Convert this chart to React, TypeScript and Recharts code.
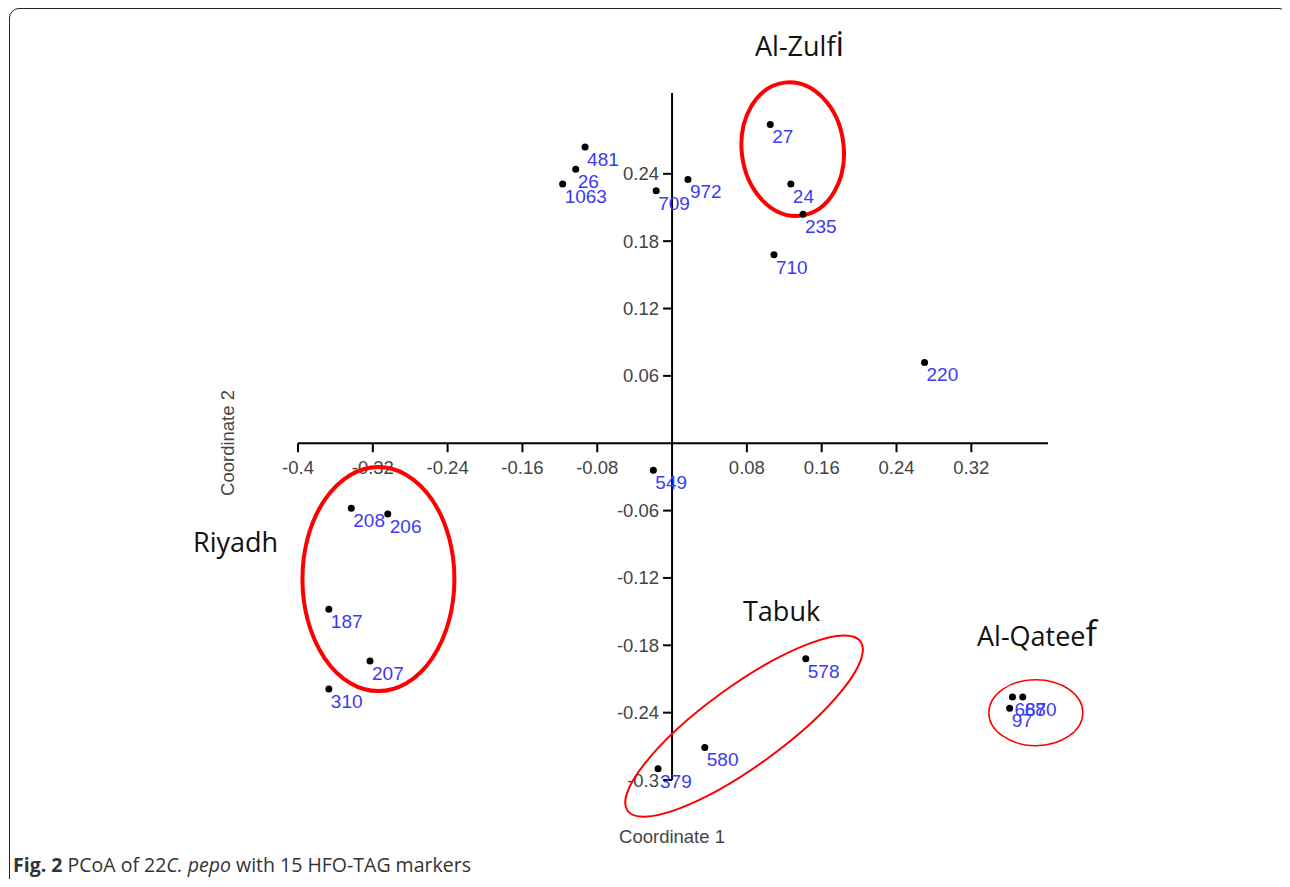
import React from "react";
import {
  ScatterChart,
  Scatter,
  XAxis,
  YAxis,
  ReferenceLine,
  ReferenceDot,
} from "recharts";

// accession labels and PCoA coordinates
const names = [
  "481", "26", "1063", "709", "972", "27", "24", "235", "710", "220", "549",
  "208", "206", "187", "207", "310", "578", "580", "379", "687", "680", "97",
];
const coord1 = [
  -0.093, -0.103, -0.117, -0.017, 0.017, 0.105, 0.127, 0.14, 0.109, 0.27, -0.02,
  -0.343, -0.304, -0.367, -0.323, -0.367, 0.143, 0.035, -0.015, 0.364, 0.375, 0.361,
];
const coord2 = [
  0.264, 0.244, 0.231, 0.225, 0.235, 0.284, 0.231, 0.204, 0.168, 0.072, -0.024,
  -0.058, -0.063, -0.148, -0.194, -0.219, -0.192, -0.271, -0.29, -0.226, -0.226, -0.236,
];

const xTicks = [-0.4, -0.32, -0.24, -0.16, -0.08, 0.08, 0.16, 0.24, 0.32];
const yTicks = [0.24, 0.18, 0.12, 0.06, -0.06, -0.12, -0.18, -0.24, -0.3];

// cluster ellipses (centre in data units)
const groupX = [0.129, -0.314, 0.077, 0.389];
const groupY = [0.262, -0.121, -0.252, -0.24];

const points = names.map((n, i) => ({ x: coord1[i], y: coord2[i], name: n }));

const ellipseStyle = [
  { rx: 51, ry: 67, rot: -7, sw: 4 },
  { rx: 76, ry: 112, rot: 0, sw: 4 },
  { rx: 144, ry: 40, rot: -36, sw: 2 },
  { rx: 47, ry: 33, rot: 0, sw: 1.5 },
];

const tickFont = { fontFamily: "Liberation Sans, Arial, sans-serif", fontSize: 18.5, fill: "#444" };

function PointShape(props: any) {
  const { cx, cy, payload } = props;
  return (
    <g>
      <circle cx={cx} cy={cy} r={3.5} fill="#000" />
      <text
        x={cx + 2}
        y={cy + 19}
        fontFamily="Liberation Sans, Arial, sans-serif"
        fontSize={19}
        fill="#3b3bf2"
      >
        {payload.name}
      </text>
    </g>
  );
}

const groupLabel: React.CSSProperties = {
  position: "absolute",
  fontFamily: "'Open Sans', sans-serif",
  fontSize: 27,
  lineHeight: "36px",
  color: "#111",
  whiteSpace: "nowrap",
};

const bigChar: React.CSSProperties = { fontSize: 34 };

export default function App() {
  return (
    <div
      style={{
        position: "relative",
        width: 1290,
        height: 887,
        margin: -8,
        background: "#fff",
        overflow: "hidden",
      }}
    >
      <div
        style={{
          position: "absolute",
          left: 9,
          top: 8,
          width: 1278,
          height: 900,
          border: "1.5px solid #222",
          borderRadius: 10,
        }}
      />
      <ScatterChart
        width={1290}
        height={887}
        margin={{ top: 93, right: 242, bottom: 107, left: 298 }}
        style={{ position: "absolute", left: 0, top: 0 }}
      >
        <XAxis type="number" dataKey="x" domain={[-0.4, 0.402]} hide />
        <YAxis type="number" dataKey="y" domain={[-0.3, 0.312]} hide />
        <ReferenceLine y={0} stroke="#000" strokeWidth={2} />
        <ReferenceLine x={0} stroke="#000" strokeWidth={2} />
        {xTicks.map((t) => (
          <ReferenceDot
            key={"x" + t}
            x={t}
            y={0}
            ifOverflow="visible"
            shape={(p: any) => (
              <g>
                <line x1={p.cx} y1={p.cy} x2={p.cx} y2={p.cy + 9} stroke="#000" strokeWidth={2} />
                <text x={p.cx} y={p.cy + 31} textAnchor="middle" {...tickFont}>
                  {String(t)}
                </text>
              </g>
            )}
          />
        ))}
        {yTicks.map((t) => (
          <ReferenceDot
            key={"y" + t}
            x={0}
            y={t}
            ifOverflow="visible"
            shape={(p: any) => (
              <g>
                <line x1={p.cx} y1={p.cy} x2={p.cx - 9} y2={p.cy} stroke="#000" strokeWidth={2} />
                <text x={p.cx - 13} y={p.cy + 6.5} textAnchor="end" {...tickFont}>
                  {String(t)}
                </text>
              </g>
            )}
          />
        ))}
        {groupX.map((gx, i) => (
          <ReferenceDot
            key={"g" + i}
            x={gx}
            y={groupY[i]}
            ifOverflow="visible"
            shape={(p: any) => {
              const e = ellipseStyle[i];
              return (
                <ellipse
                  cx={p.cx}
                  cy={p.cy}
                  rx={e.rx}
                  ry={e.ry}
                  fill="none"
                  stroke="#f00"
                  strokeWidth={e.sw}
                  transform={`rotate(${e.rot} ${p.cx} ${p.cy})`}
                />
              );
            }}
          />
        ))}
        <Scatter data={points} shape={PointShape} isAnimationActive={false} />
      </ScatterChart>

      <div style={{ ...groupLabel, left: 755, top: 25 }}>
        Al-Zulf<span style={bigChar}>i</span>
      </div>
      <div style={{ ...groupLabel, left: 193, top: 524 }}>Riyadh</div>
      <div style={{ ...groupLabel, left: 743, top: 593 }}>Tabuk</div>
      <div style={{ ...groupLabel, left: 977, top: 615 }}>
        Al-Qatee<span style={bigChar}>f</span>
      </div>

      <div
        style={{
          position: "absolute",
          left: 672,
          top: 826,
          transform: "translateX(-50%)",
          ...tickFont,
          color: "#444",
          whiteSpace: "nowrap",
        }}
      >
        Coordinate 1
      </div>
      <div
        style={{
          position: "absolute",
          left: 228,
          top: 443,
          transform: "translate(-50%, -50%) rotate(-90deg)",
          ...tickFont,
          color: "#444",
          whiteSpace: "nowrap",
        }}
      >
        Coordinate 2
      </div>
      <div
        style={{
          position: "absolute",
          left: 13,
          top: 852,
          fontFamily: "'Open Sans', sans-serif",
          fontSize: 19.5,
          lineHeight: "26px",
          color: "#333",
          whiteSpace: "nowrap",
        }}
      >
        <b>Fig. 2</b> PCoA of 22<i>C. pepo</i> with 15 HFO-TAG markers
      </div>
    </div>
  );
}
